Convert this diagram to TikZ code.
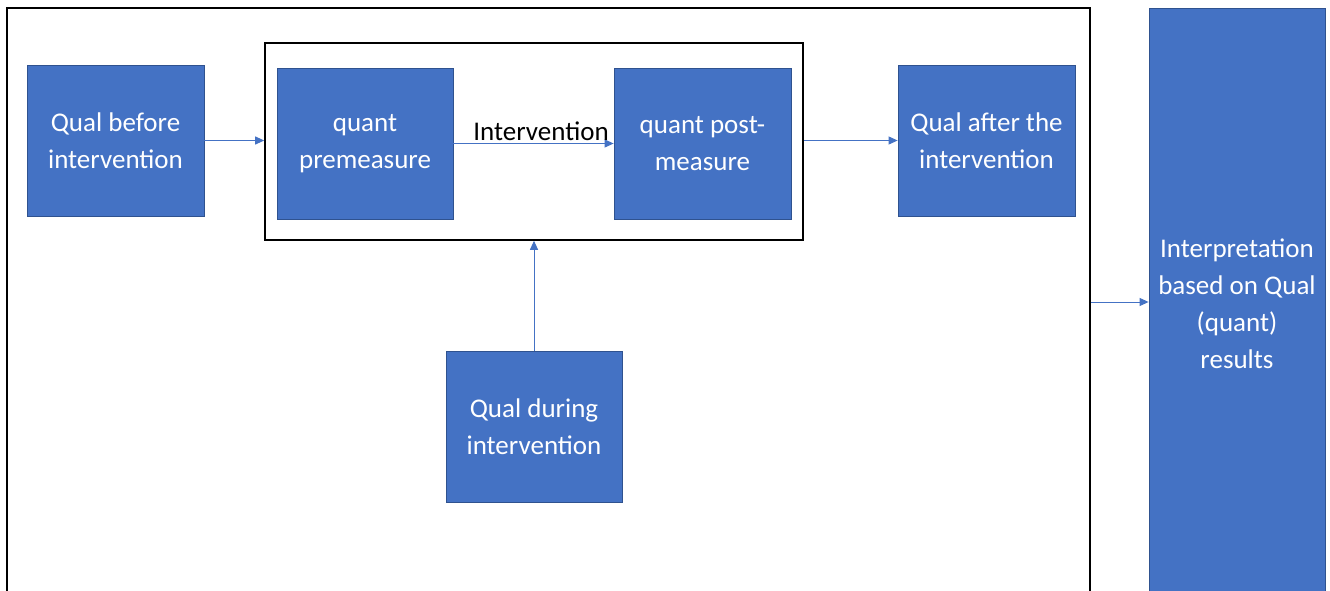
\documentclass[tikz,border=0pt]{standalone}
\usepackage{fontspec}
\setmainfont{Carlito}
\usetikzlibrary{arrows.meta}
\definecolor{boxblue}{HTML}{4472C4}
\definecolor{boxedge}{HTML}{2F528F}
\tikzset{
  bluebox/.style={rectangle, fill=boxblue, draw=boxedge, line width=0.8pt, text=white,
    align=center, inner sep=0pt, font=\fontsize{27}{37}\selectfont},
  frame/.style={rectangle, draw=black, line width=1.6pt, inner sep=0pt},
  conn/.style={draw=boxblue, line width=1pt, -{Triangle[length=9pt,width=8pt]}},
}
\begin{document}
\begin{tikzpicture}[x=1pt,y=-1pt]
\useasboundingbox (0,0) rectangle (1330,591);
\clip (0,0) rectangle (1330,591);
\fill[white] (0,0) rectangle (1330,591);
\node[frame, minimum width=1083pt, minimum height=588pt] (outer) at (548.5,302) {};
\node[frame, minimum width=538pt, minimum height=197pt] (inner) at (534,141.5) {};
\node[bluebox, minimum width=177pt, minimum height=151pt] (qb) at (115.5,140.5) {\raisebox{-2pt}{\parbox{170pt}{\centering Qual before\\intervention}}};
\node[bluebox, minimum width=176pt, minimum height=151pt] (pre) at (365,143.5) {\raisebox{-2pt}{\parbox{170pt}{\centering quant\\premeasure}}};
\node[bluebox, minimum width=177pt, minimum height=151pt] (post) at (702.5,143.5) {\raisebox{-2pt}{\parbox{170pt}{\centering quant post-\\measure}}};
\node[bluebox, minimum width=177pt, minimum height=151pt] (qa) at (986.5,140.5) {\raisebox{-2pt}{\parbox{170pt}{\centering Qual after the\\intervention}}};
\node[bluebox, minimum width=176pt, minimum height=151pt] (qd) at (534,426.5) {\raisebox{-2pt}{\parbox{170pt}{\centering Qual during\\intervention}}};
\node[bluebox, minimum width=176pt, minimum height=592pt] (interp) at (1237,304) {\raisebox{-1pt}{\parbox{170pt}{\centering Interpretation\\based on Qual\\(quant)\\results}}};
\draw[conn] (qb.east) -- (qb.east -| inner.west);
\draw[conn] (pre.east) -- (pre.east -| post.west);
\draw[conn] (qb.east -| inner.east) -- (qa.west);
\draw[conn] (qd.north) -- (inner.south);
\draw[conn] (outer.east) -- (outer.east -| interp.west);
\node[anchor=south, inner sep=0pt, font=\fontsize{27}{30}\selectfont] (lbl) at (541,141) {Intervention};
\end{tikzpicture}
\end{document}
